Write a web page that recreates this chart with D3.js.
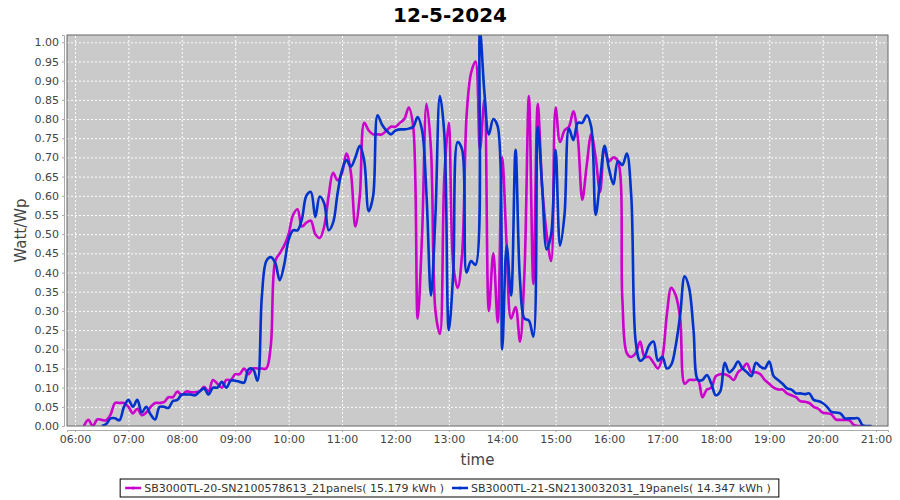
<!DOCTYPE html>
<html>
<head>
<meta charset="utf-8">
<script src="https://cdn.jsdelivr.net/npm/d3@7/dist/d3.min.js"></script>
<style>
  body { margin: 0; background: #fff; }
  .grid line { stroke: #fff; stroke-dasharray: 2,2; stroke-width: 1; }
  .grid path { display: none; }
  .axis text { font-family: 'DejaVu Sans', sans-serif; font-size: 11px; fill: #444; }
  .axis line, .axis path { stroke: #aaa; }
  .path-line { fill: none; stroke-width: 2.6; stroke-linejoin: round; }
</style>
</head>
<body>
<div id="chart"></div>
<script>
// Chart title and labels
const title = '12-5-2024'
const xLabel = 'time'
const yLabel = 'Watt/Wp'

// Series names (legend text)
const seriesNames = [
  'SB3000TL-20-SN2100578613_21panels( 15.179 kWh )',
  'SB3000TL-21-SN2130032031_19panels( 14.347 kWh )'
]
const seriesColors = ['#cc00cc', '#0033cc']

// First sample time of each series, samples every 5 minutes
const seriesStart = ['06:10', '06:30']

// Watt/Wp, SN2100578613 (magenta)
const valuesA = [
  0, 0.016, 0.0, 0.017, 0.016, 0.015, 0.03, 0.06, 0.06, 0.06,
  0.05, 0.033, 0.045, 0.028, 0.035, 0.05, 0.06, 0.06, 0.062, 0.075,
  0.075, 0.09, 0.08, 0.09, 0.088, 0.088, 0.09, 0.102, 0.09, 0.12,
  0.11, 0.10, 0.12, 0.12, 0.135, 0.135, 0.15, 0.135, 0.15, 0.15,
  0.15, 0.15, 0.21, 0.43, 0.45, 0.47, 0.50, 0.55, 0.565, 0.52,
  0.53, 0.535, 0.50, 0.49, 0.52, 0.60, 0.66, 0.64, 0.66, 0.71,
  0.66, 0.52, 0.60, 0.79, 0.77, 0.76, 0.76, 0.76, 0.77, 0.78,
  0.78, 0.79, 0.80, 0.83, 0.78, 0.28, 0.50, 0.84, 0.72, 0.30,
  0.24, 0.65, 0.79, 0.42, 0.36, 0.45, 0.81, 0.92, 0.95, 0.72,
  0.85, 0.30, 0.45, 0.27, 0.70, 0.47, 0.28, 0.31, 0.22, 0.40,
  0.86, 0.37, 0.84, 0.62, 0.50, 0.43, 0.83, 0.74, 0.77, 0.78,
  0.82, 0.75, 0.59, 0.68, 0.76, 0.70, 0.61, 0.72, 0.69, 0.70,
  0.69, 0.33, 0.19, 0.18, 0.19, 0.22, 0.18, 0.18, 0.165, 0.15,
  0.18, 0.29, 0.36, 0.34, 0.28, 0.11, 0.12, 0.12, 0.12, 0.075,
  0.095, 0.10, 0.13, 0.135, 0.135, 0.13, 0.12, 0.14, 0.15, 0.163,
  0.14, 0.14, 0.135, 0.12, 0.11, 0.10, 0.095, 0.095, 0.085, 0.08,
  0.075, 0.065, 0.063, 0.06, 0.05, 0.045, 0.035, 0.033, 0.03, 0.017,
  0.016, 0.016, 0.015, 0.003, 0, 0
]

// Watt/Wp, SN2130032031 (blue)
const valuesB = [
  0, 0.005, 0.02, 0.02, 0.015, 0.05, 0.068, 0.05, 0.068, 0.035,
  0.05, 0.03, 0.017, 0.05, 0.05, 0.047, 0.065, 0.068, 0.082, 0.082,
  0.082, 0.08, 0.09, 0.098, 0.082, 0.10, 0.10, 0.115, 0.10, 0.118,
  0.118, 0.115, 0.113, 0.148, 0.148, 0.118, 0.34, 0.43, 0.44, 0.425,
  0.38, 0.42, 0.485, 0.51, 0.51, 0.54, 0.60, 0.61, 0.545, 0.598,
  0.58, 0.51, 0.53, 0.606, 0.667, 0.693, 0.676, 0.70, 0.73, 0.69,
  0.56, 0.60, 0.81, 0.785, 0.77, 0.76, 0.77, 0.773, 0.773, 0.775,
  0.78, 0.805, 0.77, 0.60, 0.34, 0.55, 0.86, 0.76, 0.25, 0.40,
  0.74, 0.72, 0.40, 0.43, 0.42, 1.03, 0.87, 0.76, 0.80, 0.78,
  0.20, 0.47, 0.34, 0.72, 0.38, 0.28, 0.275, 0.233, 0.78, 0.62,
  0.46, 0.50, 0.72, 0.47, 0.55, 0.775, 0.745, 0.79, 0.79, 0.81,
  0.78, 0.55, 0.64, 0.73, 0.67, 0.63, 0.69, 0.68, 0.71, 0.60,
  0.22, 0.17, 0.18, 0.21, 0.22, 0.17, 0.18, 0.15, 0.16, 0.21,
  0.29, 0.39, 0.36, 0.25, 0.12, 0.12, 0.133, 0.11, 0.08, 0.09,
  0.165, 0.14, 0.15, 0.168, 0.15, 0.14, 0.13, 0.165, 0.155, 0.15,
  0.168, 0.13, 0.12, 0.11, 0.098, 0.095, 0.085, 0.085, 0.083, 0.085,
  0.068, 0.065, 0.06, 0.05, 0.037, 0.035, 0.033, 0.02, 0.02, 0.02,
  0.02, 0.002, 0, 0
]

// Axis extents and tick values
const xDomain = ['05:51', '21:13']
const yMax = 1.019
const yTicks = d3.range(0, 21).map(i => i * 0.05)

const parseTime = d3.timeParse('%H:%M')

const toPoints = (start, values) => {
  const t0 = parseTime(start)
  return values.map((v, i) => ({ date: d3.timeMinute.offset(t0, i * 5), value: v }))
}

const series = [toPoints(seriesStart[0], valuesA), toPoints(seriesStart[1], valuesB)]

// Vars for dimensions
const margin = { top: 35, right: 12, bottom: 74, left: 67 }
const width = 900
const height = 500
const innerWidth = width - margin.left - margin.right
const innerHeight = height - margin.top - margin.bottom

const svg = d3.select('#chart')
  .append('svg')
  .attr('width', width)
  .attr('height', height)

const g = svg.append('g')
  .attr('transform', `translate(${margin.left}, ${margin.top})`)

// Scales
const xScale = d3.scaleTime()
  .domain([parseTime(xDomain[0]), d3.timeSecond.offset(parseTime(xDomain[1]), 30)])
  .range([0, innerWidth])
const yScale = d3.scaleLinear().domain([0, yMax]).range([innerHeight, 0])
const xTicks = d3.timeHour.range(parseTime('06:00'), parseTime('21:01'))

// Plot background
g.append('rect')
  .attr('width', innerWidth)
  .attr('height', innerHeight)
  .attr('fill', '#cacaca')

// X gridlines
g.append('g')
  .attr('class', 'grid')
  .attr('transform', `translate(0, ${innerHeight})`)
  .call(d3.axisBottom(xScale).tickValues(xTicks).tickSize(-innerHeight).tickFormat(''))
  .call(s => s.selectAll('text').remove())

// Y gridlines
g.append('g')
  .attr('class', 'grid')
  .call(d3.axisLeft(yScale).tickValues(yTicks).tickSize(-innerWidth).tickFormat(''))
  .call(s => s.selectAll('text').remove())

// Clip for the lines
g.append('clipPath')
  .attr('id', 'plot-clip')
  .append('rect')
  .attr('width', innerWidth)
  .attr('height', innerHeight)

const line = d3.line()
  .x(d => xScale(d.date))
  .y(d => yScale(d.value))
  .curve(d3.curveCatmullRom.alpha(0.5))

series.forEach((data, i) => {
  g.append('path')
    .datum(data)
    .attr('class', 'path-line')
    .attr('clip-path', 'url(#plot-clip)')
    .attr('stroke', seriesColors[i])
    .attr('d', line)
})

// Plot outline
g.append('rect')
  .attr('width', innerWidth)
  .attr('height', innerHeight)
  .attr('fill', 'none')
  .attr('stroke', '#666')

// Bottom axis - time
g.append('g')
  .attr('class', 'axis')
  .attr('transform', `translate(0, ${innerHeight + 4})`)
  .call(d3.axisBottom(xScale).tickValues(xTicks).tickSize(2).tickPadding(3).tickFormat(d3.timeFormat('%H:%M')))

// Left axis - Watt/Wp
g.append('g')
  .attr('class', 'axis')
  .attr('transform', 'translate(-3, 0)')
  .call(d3.axisLeft(yScale).tickValues(yTicks).tickSize(2).tickPadding(3).tickFormat(d3.format('.2f')))

g.selectAll('.axis .domain').attr('stroke', '#bbb')

// Axis titles
svg.append('text')
  .attr('x', margin.left + innerWidth / 2)
  .attr('y', 465)
  .attr('text-anchor', 'middle')
  .attr('font-family', 'DejaVu Sans, sans-serif')
  .attr('font-size', 15)
  .attr('fill', '#444')
  .text(xLabel)

svg.append('text')
  .attr('transform', `translate(26, ${margin.top + innerHeight / 2}) rotate(-90)`)
  .attr('text-anchor', 'middle')
  .attr('font-family', 'DejaVu Sans, sans-serif')
  .attr('font-size', 15)
  .attr('fill', '#444')
  .text(yLabel)

// Title
svg.append('text')
  .attr('x', width / 2)
  .attr('y', 22)
  .attr('text-anchor', 'middle')
  .attr('font-family', 'DejaVu Sans, sans-serif')
  .attr('font-weight', 'bold')
  .attr('font-size', 20)
  .attr('fill', '#000')
  .text(title)

// Legend
const legend = svg.append('g')
const legendBox = legend.append('rect')
  .attr('y', -9)
  .attr('height', 18)
  .attr('fill', '#fff')
  .attr('stroke', '#000')

let lx = 3
seriesNames.forEach((name, i) => {
  const item = legend.append('g').attr('transform', `translate(${lx}, 0)`)
  item.append('line')
    .attr('x1', 2).attr('x2', 18)
    .attr('stroke', seriesColors[i]).attr('stroke-width', 2.5)
  item.append('circle')
    .attr('cx', 10).attr('r', 1.5)
    .attr('fill', seriesColors[i])
  const txt = item.append('text')
    .attr('x', 21)
    .attr('y', 4)
    .attr('font-family', 'DejaVu Sans, sans-serif')
    .attr('font-size', 11)
    .attr('fill', '#333')
    .text(name)
  lx += 21 + txt.node().getComputedTextLength() + 6
})
const legendWidth = lx + 2
const legendX = margin.left + innerWidth / 2 - legendWidth / 2 - 28
legend.attr('transform', `translate(${legendX}, 488)`)
legendBox.attr('x', 0).attr('width', legendWidth)
</script>
</body>
</html>
